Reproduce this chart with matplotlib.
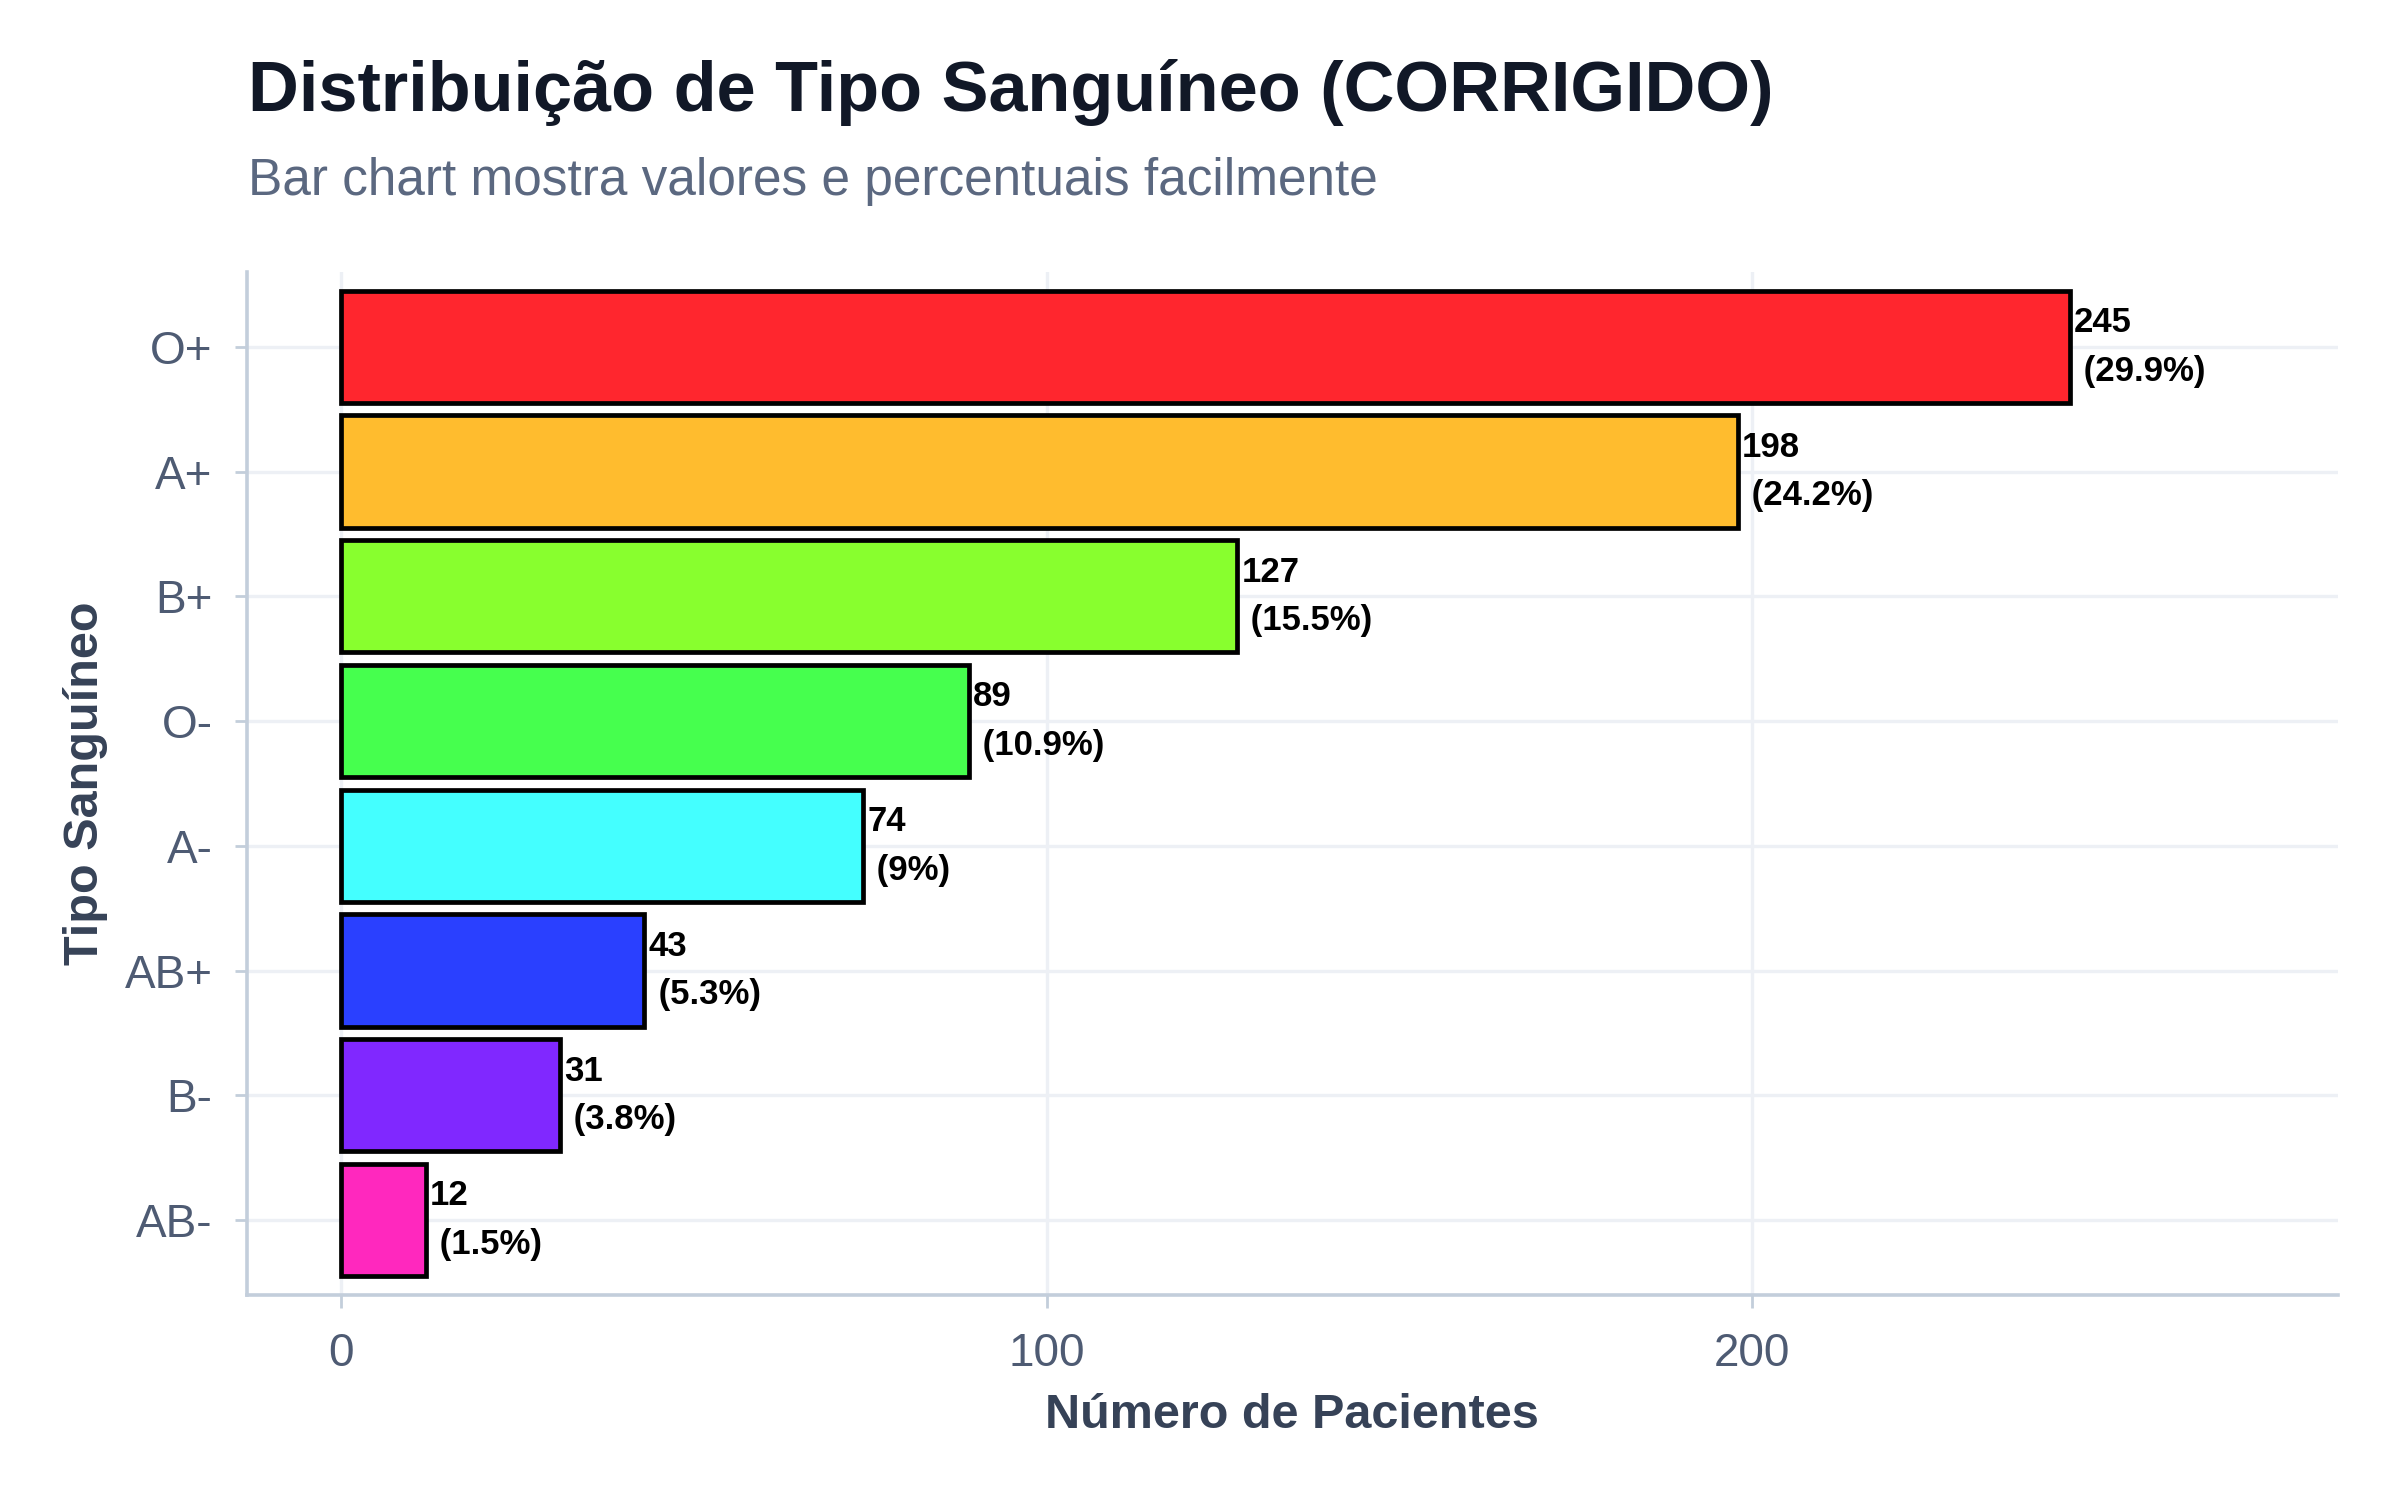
import matplotlib.pyplot as plt

plt.rcParams['font.family'] = ['Liberation Sans', 'DejaVu Sans']

tipos = ['O+', 'A+', 'B+', 'O-', 'A-', 'AB+', 'B-', 'AB-']
pacientes = [245, 198, 127, 89, 74, 43, 31, 12]
percentuais = [29.9, 24.2, 15.5, 10.9, 9, 5.3, 3.8, 1.5]
cores = ['#FF262E', '#FFBC2E', '#88FF2E', '#46FF4E', '#44FFFF', '#2A40FF', '#8028FF', '#FF28BE']

grid_c = '#EDF0F5'
spine_c = '#C3CEDB'
tick_c = '#4E5B73'
label_c = '#364257'

fig = plt.figure(figsize=(12, 7.5), dpi=200)
ax = fig.add_axes([0.103, 0.1367, 0.871, 0.682])

ypos = list(range(len(tipos)))
ax.barh(ypos, pacientes, height=0.9, color=cores, edgecolor='black', linewidth=1.7, zorder=3)

for y, v, p in zip(ypos, pacientes, percentuais):
    ax.text(v + 0.6, y, f'{v}\n ({p:g}%)', va='center', ha='left', fontsize=12.5,
            fontweight='bold', color='black', linespacing=1.6, zorder=4)

ax.set_xlim(-13.3, 283)
ax.set_ylim(len(tipos) - 0.4, -0.6)
ax.set_yticks(ypos)
ax.set_yticklabels(tipos)
ax.set_xticks([0, 100, 200])

ax.grid(True, color=grid_c, linewidth=1.2, zorder=0)
ax.set_axisbelow(True)
for s in ['top', 'right']:
    ax.spines[s].set_visible(False)
for s in ['left', 'bottom']:
    ax.spines[s].set_color(spine_c)
    ax.spines[s].set_linewidth(1.3)

ax.tick_params(axis='both', colors=spine_c, labelcolor=tick_c, labelsize=16.5, length=4.5, width=1)
ax.tick_params(axis='x', pad=9)
ax.tick_params(axis='y', pad=8)

ax.set_xlabel('Número de Pacientes', fontsize=17.5, fontweight='bold', color=label_c, labelpad=6)
ax.set_ylabel('Tipo Sanguíneo', fontsize=17.5, fontweight='bold', color=label_c, labelpad=6)

fig.text(0.1033, 0.938, 'Distribuição de Tipo Sanguíneo (CORRIGIDO)', fontsize=25.3,
         fontweight='bold', color='#111827', va='center', ha='left')
fig.text(0.1033, 0.879, 'Bar chart mostra valores e percentuais facilmente', fontsize=18.5,
         color='#5B6880', va='center', ha='left')

fig.savefig('out.png', dpi=200, facecolor='white')
